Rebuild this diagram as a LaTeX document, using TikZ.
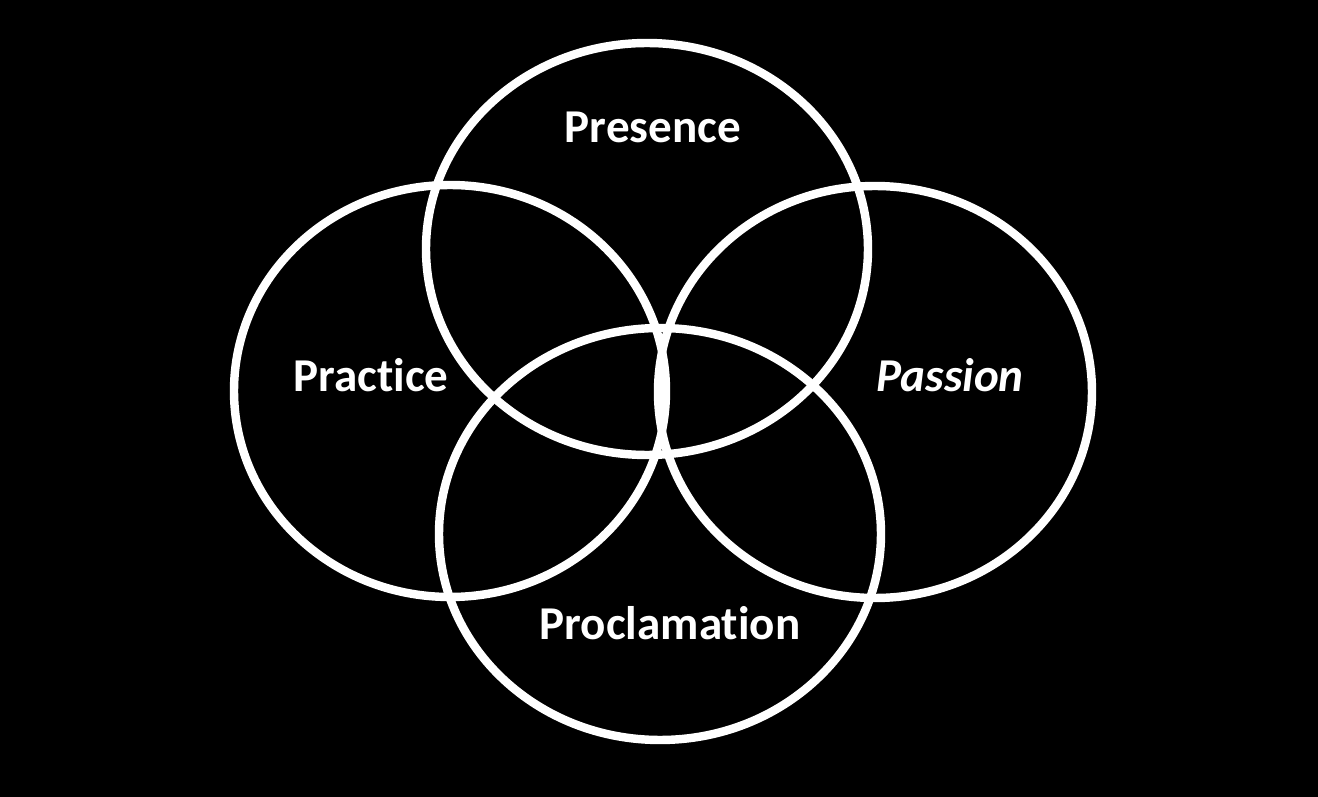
\documentclass[tikz,border=0pt]{standalone}
\usepackage{fontspec}
\setmainfont[Ligatures=NoCommon]{Carlito}
\usetikzlibrary{shapes.geometric, positioning}
\tikzset{
    ring/.style={
        ellipse,
        draw=white,
        line width=2.4pt,
        minimum width=4.42cm,
        minimum height=4.12cm,
        inner sep=0pt
    },
    label/.style={
        text=white,
        anchor=base,
        font=\fontsize{13.4pt}{15pt}\selectfont\bfseries
    }
}
\begin{document}
\begin{tikzpicture}

        \fill [black] (0,0) rectangle (13.18,-7.97);

        \node (presence) [ring] at (6.47,-2.49) {};
        \node (practice) [ring, minimum width=4.32cm] at (4.50,-3.91) {};
        \node (passion) [ring, minimum width=4.34cm] at (8.75,-3.92) {};
        \node (proclamation) [ring] at (6.60,-5.34) {};

        \node (presencelbl) [label] at (6.53,-1.43) {Presence};
        \node (practicelbl) [label] at (3.71,-3.92) {Practice};
        \node (passionlbl) [label] at (9.50,-3.92) {\itshape Passion};
        \node (proclamationlbl) [label] at (6.70,-6.40) {Proclamation};

    \end{tikzpicture}
\end{document}
